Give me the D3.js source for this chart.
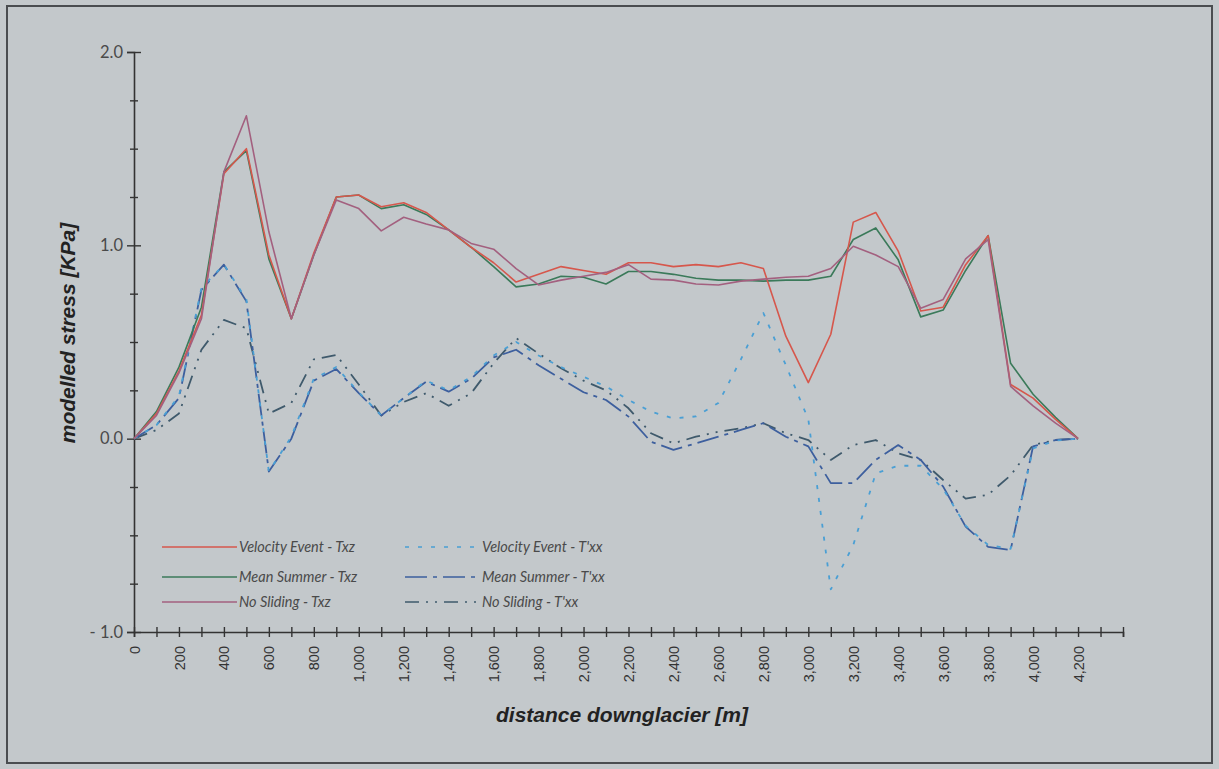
<!DOCTYPE html>
<html lang="en">
<head>
<meta charset="utf-8">
<title>modelled stress</title>
<script src="https://cdn.jsdelivr.net/npm/d3@7"></script>
<style>
  body { margin: 0; background: #c4c9cc; }
  svg { display: block; }
</style>
</head>
<body>
<script>
var width = 1219, height = 769

// distance downglacier [m]
var distance = [0,100,200,300,400,500,600,700,800,900,1000,1100,1200,1300,1400,1500,1600,1700,1800,1900,2000,
  2100,2200,2300,2400,2500,2600,2700,2800,2900,3000,3100,3200,3300,3400,3500,3600,3700,3800,3900,4000,4100,4200]

// shear stress Txz [KPa]
var velocityTxz = [0,0.13,0.35,0.64,1.37,1.50,0.95,0.62,0.96,1.25,1.26,1.20,1.22,1.17,1.08,0.99,0.91,0.81,0.85,0.89,0.87,
  0.85,0.91,0.91,0.89,0.90,0.89,0.91,0.88,0.53,0.29,0.54,1.12,1.17,0.97,0.66,0.68,0.90,1.05,0.28,0.21,0.10,0]
var meanTxz = [0,0.14,0.37,0.68,1.38,1.49,0.93,0.62,0.95,1.25,1.26,1.19,1.21,1.16,1.08,0.99,0.89,0.785,0.80,0.84,0.835,
  0.80,0.865,0.865,0.85,0.83,0.82,0.82,0.815,0.82,0.82,0.84,1.03,1.09,0.925,0.63,0.665,0.87,1.05,0.39,0.23,0.11,0]
var noSlideTxz = [0,0.12,0.34,0.62,1.38,1.67,1.07,0.62,0.95,1.235,1.19,1.075,1.145,1.11,1.08,1.01,0.98,0.88,0.795,0.82,0.84,
  0.86,0.90,0.825,0.82,0.80,0.795,0.815,0.825,0.835,0.84,0.88,0.995,0.95,0.89,0.675,0.72,0.93,1.03,0.27,0.17,0.08,0]

// longitudinal deviatoric stress T'xx [KPa]
var velocityTxx = [0,0.07,0.22,0.78,0.90,0.72,-0.17,0.01,0.31,0.37,0.24,0.12,0.21,0.30,0.25,0.32,0.43,0.50,0.43,0.37,0.32,
  0.27,0.20,0.14,0.105,0.115,0.185,0.41,0.65,0.38,0.10,-0.78,-0.55,-0.18,-0.14,-0.14,-0.26,-0.45,-0.55,-0.57,-0.05,-0.01,0]
var meanTxx = [0,0.07,0.21,0.77,0.90,0.71,-0.17,0.0,0.30,0.36,0.235,0.12,0.21,0.295,0.243,0.31,0.42,0.46,0.38,0.31,0.24,
  0.20,0.114,-0.016,-0.058,-0.024,0.01,0.045,0.08,0.01,-0.04,-0.23,-0.23,-0.11,-0.033,-0.11,-0.248,-0.455,-0.56,-0.576,-0.04,-0.007,0]
var noSlideTxx = [0,0.045,0.13,0.46,0.614,0.571,0.13,0.185,0.41,0.433,0.28,0.12,0.19,0.235,0.17,0.235,0.39,0.52,0.44,0.364,0.30,
  0.25,0.157,0.028,-0.024,0.01,0.036,0.054,0.08,0.028,-0.007,-0.11,-0.033,-0.007,-0.076,-0.11,-0.214,-0.31,-0.29,-0.19,-0.033,-0.007,0]

var seriesNames = ["Velocity Event - Txz","Mean Summer - Txz","No Sliding - Txz",
  "Velocity Event - T'xx","Mean Summer - T'xx","No Sliding - T'xx"]
var seriesValues = [velocityTxz, meanTxz, noSlideTxz, velocityTxx, meanTxx, noSlideTxx]

var styles = [
  {color: "#d6574c", dash: null},
  {color: "#3b7a5a", dash: null},
  {color: "#a3607f", dash: null},
  {color: "#4a9fd4", dash: "4,9"},
  {color: "#3d5f9e", dash: "22,6,4,6"},
  {color: "#3f5a6c", dash: "14,7,2,7,2,7"}
]

var svg = d3.select("body").append("svg").attr("width", width).attr("height", height)

svg.append("rect").attr("width", width).attr("height", height).attr("fill", "#c4c9cc")
svg.append("rect").attr("x", 7).attr("y", 6).attr("width", 1205).attr("height", 757)
  .attr("fill", "#c3c8cb").attr("stroke", "#4a4d50").attr("stroke-width", 2)

var x = d3.scaleLinear().domain([0, 4400]).range([134, 1123])
var y = d3.scaleLinear().domain([-1, 2]).range([632, 52])

// y axis
var yAxis = svg.append("g").attr("transform", "translate(" + x(0) + ",0)")
  .call(d3.axisLeft(y).tickValues(d3.range(-1, 2.01, 0.25)).tickSize(7)
    .tickFormat(function(d) { return Number.isInteger(d) ? (d < 0 ? "- " + Math.abs(d).toFixed(1) : d.toFixed(1)) : "" }))
yAxis.select(".domain").attr("stroke", "#333").attr("stroke-width", 1.6)
yAxis.selectAll(".tick line")
  .attr("x1", function(d) { return Number.isInteger(d) ? 7 : 4 })
  .attr("x2", function(d) { return Number.isInteger(d) ? -7 : -4 })
  .attr("stroke", "#333").attr("stroke-width", 1.4)
yAxis.selectAll(".tick text").attr("x", -11)
  .style("font-family", "Lato, sans-serif").style("font-size", "16.5px").attr("fill", "#4a4a4a")

// x axis
var xAxis = svg.append("g").attr("transform", "translate(0," + y(-1) + ")")
  .call(d3.axisBottom(x).tickValues(d3.range(0, 4401, 100)).tickSize(5)
    .tickFormat(function(d) { return (d % 200 === 0 && d <= 4200) ? d3.format(",")(d) : "" }))
xAxis.select(".domain").attr("stroke", "#333").attr("stroke-width", 1.6)
xAxis.selectAll(".tick line").attr("y1", -5).attr("y2", 5).attr("stroke", "#333").attr("stroke-width", 1.4)
xAxis.selectAll(".tick text")
  .attr("transform", "rotate(-90)").attr("x", -14).attr("y", 0).attr("dy", "0.35em")
  .attr("text-anchor", "end")
  .style("font-family", "Arial, 'Liberation Sans', sans-serif").style("font-size", "14.5px").attr("fill", "#333")

// axis titles
svg.append("text").attr("transform", "translate(75,333) rotate(-90)").attr("text-anchor", "middle")
  .style("font-family", "Arial, 'Liberation Sans', sans-serif").style("font-size", "21px")
  .style("font-weight", "bold").style("font-style", "italic").attr("fill", "#222")
  .text("modelled stress [KPa]")
svg.append("text").attr("x", 622).attr("y", 722).attr("text-anchor", "middle")
  .style("font-family", "Arial, 'Liberation Sans', sans-serif").style("font-size", "21px")
  .style("font-weight", "bold").style("font-style", "italic").attr("fill", "#222")
  .text("distance downglacier [m]")

// lines
var line = d3.line()
  .x(function(d, i) { return x(distance[i]) })
  .y(function(d) { return y(d) })

var order = [5, 4, 3, 1, 0, 2]
order.forEach(function(k) {
  svg.append("path").datum(seriesValues[k])
    .attr("d", line)
    .attr("fill", "none")
    .attr("stroke", styles[k].color)
    .attr("stroke-width", k < 3 ? 1.6 : 1.8)
    .attr("stroke-dasharray", styles[k].dash)
    .attr("stroke-linejoin", "round")
})

// legend
var legendRows = [547, 577, 602]
var legendCols = [162, 405]
seriesNames.forEach(function(name, k) {
  var col = Math.floor(k / 3), row = k % 3
  var lx = legendCols[col], ly = legendRows[row]
  svg.append("line").attr("x1", lx).attr("x2", lx + 75).attr("y1", ly).attr("y2", ly)
    .attr("stroke", styles[k].color).attr("stroke-width", 1.6)
    .attr("stroke-dasharray", styles[k].dash)
  svg.append("text").attr("x", lx + 77).attr("y", ly).attr("dy", "0.35em")
    .style("font-family", "Lato, sans-serif").style("font-size", "14.5px").style("font-style", "italic")
    .attr("fill", "#4a4a4a")
    .text(name)
})
</script>
</body>
</html>
